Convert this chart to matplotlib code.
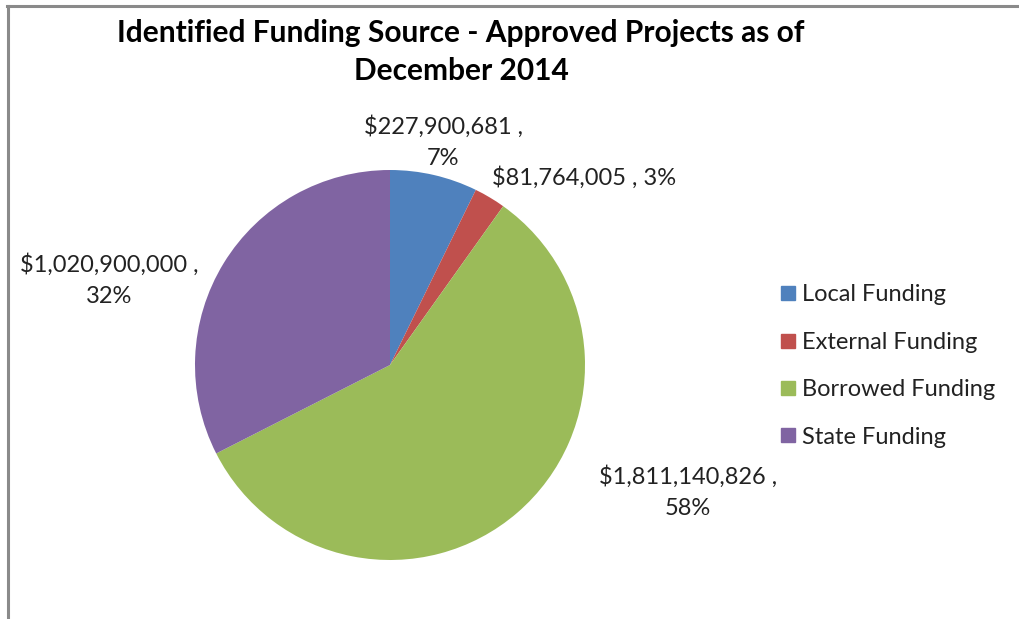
import matplotlib.pyplot as plt
from matplotlib.lines import Line2D

# 数据
categories = ['Local Funding', 'External Funding', 'Borrowed Funding', 'State Funding']
amounts = [227900681, 81764005, 1811140826, 1020900000]
pct_labels = ['7%', '3%', '58%', '32%']
colors = ['#4F81BD', '#C0504D', '#9BBB59', '#8064A2']
title = 'Identified Funding Source - Approved Projects as of\nDecember 2014'

plt.rcParams['font.family'] = ['Lato', 'DejaVu Sans']

W, H = 1019, 619
fig = plt.figure(figsize=(W / 100, H / 100), dpi=100)


def fx(px):
    return px / W


def fy(py):
    return 1 - py / H


# 饼图, 圆心 (390, 365), 半径 195 像素
cx, cy, r = 390, 365, 195
ax = fig.add_axes([fx(cx - r), fy(cy + r), 2 * r / W, 2 * r / H])
wedges, _ = ax.pie(amounts, colors=colors, startangle=90, counterclock=False,
                   radius=1, wedgeprops=dict(linewidth=0))
ax.set_xlim(-1, 1)
ax.set_ylim(-1, 1)
ax.set_aspect('equal')
ax.axis('off')

# 标题
fig.text(fx(461), fy(52), title, ha='center', va='center', fontsize=21.5,
         fontweight='bold', linespacing=1.45)

# 数据标签
label_pos = [(443, 142), (584, 178), (688, 492), (109, 280)]
multiline = [True, False, True, True]
for i in range(len(amounts)):
    money = '${:,}'.format(amounts[i])
    sep = ' ,\n' if multiline[i] else ' , '
    fig.text(fx(label_pos[i][0]), fy(label_pos[i][1]), money + sep + pct_labels[i],
             ha='center', va='center', fontsize=17, color='#222222',
             linespacing=1.55)

# 图例
handles = [Line2D([], [], marker='s', linestyle='', markersize=10,
                  markerfacecolor=c, markeredgecolor=c) for c in colors]
fig.legend(handles, categories, loc='center left',
           bbox_to_anchor=(fx(760), fy(366)), frameon=False, fontsize=17,
           handlelength=0.6, handletextpad=0.3, labelspacing=1.12,
           labelcolor='#222222')

# 边框 (上, 左)
fig.add_artist(Line2D([fx(7), 1], [fy(6), fy(6)], color='#8a8a8a', linewidth=2.2))
fig.add_artist(Line2D([fx(8), fx(8)], [fy(6), 0], color='#8a8a8a', linewidth=2.2))

fig.savefig('out.png', dpi=100, facecolor='white')
